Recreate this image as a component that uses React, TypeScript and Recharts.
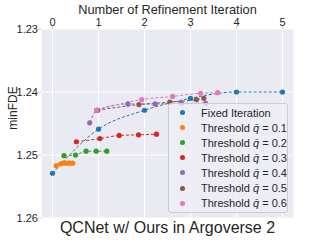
import { LineChart, Line, XAxis, YAxis, CartesianGrid } from 'recharts';

// iteration counts (x) and minFDE (y) per run
const fixedX = [0, 1, 2, 3, 4, 5];
const fixedY = [1.2529, 1.2459, 1.2429, 1.241, 1.24, 1.24];

const q1X = [0.08, 0.18, 0.24, 0.31, 0.38, 0.44];
const q1Y = [1.2517, 1.2514, 1.2513, 1.2513, 1.2513, 1.2513];

const q2X = [0.25, 0.5, 0.73, 0.95, 1.18];
const q2Y = [1.2501, 1.25, 1.2494, 1.2494, 1.2494];

const q3X = [0.52, 1.03, 1.45, 1.87, 2.26];
const q3Y = [1.2479, 1.2474, 1.2469, 1.2468, 1.2467];

const q4X = [0.81, 0.96, 1.64, 2.23, 2.8, 3.33];
const q4Y = [1.2449, 1.2429, 1.2419, 1.2419, 1.2418, 1.2418];

const q5X = [0.98, 1.88, 2.55, 3.13, 3.29];
const q5Y = [1.2429, 1.242, 1.2416, 1.2412, 1.241];

const q6X = [0.96, 1.94, 2.61, 3.22, 3.59];
const q6Y = [1.2429, 1.2412, 1.2407, 1.2402, 1.2401];

const xTicks = [0, 1, 2, 3, 4, 5];
const yTicks = [1.23, 1.24, 1.25, 1.26];

const zip = (xs: number[], ys: number[]) => xs.map((x, i) => ({ x, y: ys[i] }));

const SERIES = [
  { name: 'Fixed Iteration', q: null, color: '#1f77b4', data: zip(fixedX, fixedY) },
  { name: 'Threshold', q: '0.1', color: '#ff7f0e', data: zip(q1X, q1Y) },
  { name: 'Threshold', q: '0.2', color: '#2ca02c', data: zip(q2X, q2Y) },
  { name: 'Threshold', q: '0.3', color: '#d62728', data: zip(q3X, q3Y) },
  { name: 'Threshold', q: '0.4', color: '#9467bd', data: zip(q4X, q4Y) },
  { name: 'Threshold', q: '0.5', color: '#8c564b', data: zip(q5X, q5Y) },
  { name: 'Threshold', q: '0.6', color: '#e377c2', data: zip(q6X, q6Y) },
];

const FONT = '"Liberation Sans", Arial, sans-serif';
const TICK = { fill: '#262626', fontSize: 11, fontFamily: FONT };

function LegendBox() {
  return (
    <div
      style={{
        position: 'absolute',
        left: 168,
        top: 103,
        width: 120,
        height: 110,
        boxSizing: 'border-box',
        background: 'rgba(238,238,245,0.8)',
        border: '1px solid #cccccc',
        borderRadius: 3,
        padding: '1px 0 0 11px',
        fontFamily: FONT,
        fontSize: 11,
        color: '#262626',
      }}
    >
      {SERIES.map((s, i) => (
        <div key={i} style={{ display: 'flex', alignItems: 'center', height: 15.1, whiteSpace: 'nowrap' }}>
          <span
            style={{ width: 5, height: 5, borderRadius: '50%', background: s.color, marginRight: 16, flex: 'none' }}
          />
          {s.q === null ? (
            <span>{s.name}</span>
          ) : (
            <span>
              {s.name} <i>q&#772;</i> = {s.q}
            </span>
          )}
        </div>
      ))}
    </div>
  );
}

export default function App() {
  return (
    <div style={{ position: 'absolute', left: 0, top: 0, width: 327, height: 245, background: '#fff' }}>
      <LineChart width={327} height={245} margin={{ top: 0, right: 33, bottom: 27, left: 0 }}>
        <CartesianGrid fill="#eaeaf2" stroke="#ffffff" strokeWidth={1} />
        <XAxis
          type="number"
          dataKey="x"
          orientation="top"
          domain={[-0.25, 5.25]}
          ticks={xTicks}
          allowDataOverflow
          height={29}
          axisLine={false}
          tickLine={{ stroke: '#cccccc' }}
          tickSize={3}
          tickMargin={0}
          tick={TICK}
          label={{
            content: () => (
              <text x={167.5} y={14} textAnchor="middle" fontSize={12.8} fontFamily={FONT} fill="#262626">
                Number of Refinement Iteration
              </text>
            ),
          }}
        />
        <YAxis
          type="number"
          domain={[1.23, 1.26]}
          reversed
          ticks={yTicks}
          allowDataOverflow
          width={41}
          axisLine={false}
          tickLine={{ stroke: '#cccccc' }}
          tickSize={3}
          tickMargin={0}
          tick={TICK}
          tickFormatter={(v: number) => v.toFixed(2)}
          label={{
            content: () => (
              <text
                x={0}
                y={0}
                transform="translate(17,108) rotate(-90)"
                textAnchor="middle"
                fontSize={12}
                fontFamily={FONT}
                fill="#262626"
              >
                minFDE
              </text>
            ),
          }}
        />
        {SERIES.map((s, i) => (
          <Line
            key={i}
            data={s.data}
            dataKey="y"
            type="monotone"
            stroke={s.color}
            strokeWidth={1}
            strokeDasharray="3 2"
            dot={{ r: 2.6, fill: s.color, stroke: 'none' }}
            isAnimationActive={false}
          />
        ))}
      </LineChart>
      <LegendBox />
      <div
        style={{
          position: 'absolute',
          left: 0,
          width: 335,
          top: 219,
          textAlign: 'center',
          fontFamily: FONT,
          fontSize: 16,
          color: '#262626',
        }}
      >
        QCNet w/ Ours in Argoverse 2
      </div>
    </div>
  );
}
